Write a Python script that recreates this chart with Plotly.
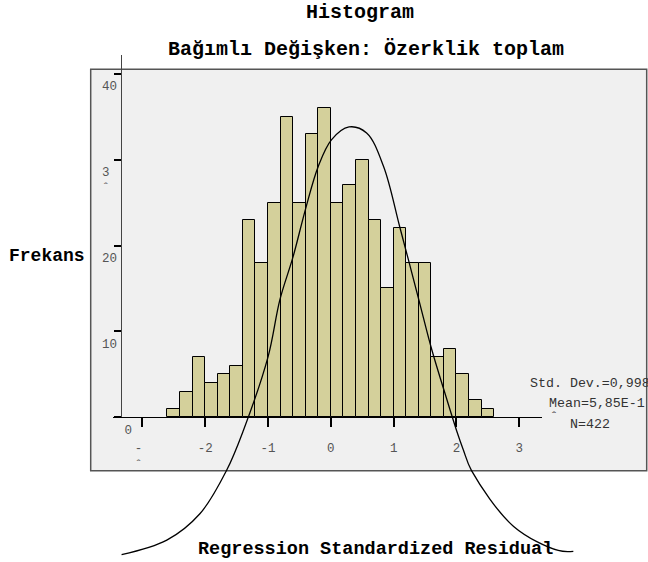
import plotly.graph_objects as go

# ---------------- data ----------------
bin_centers = [-2.5, -2.3, -2.1, -1.9, -1.7, -1.5, -1.3, -1.1, -0.9, -0.7, -0.5, -0.3, -0.1,
               0.1, 0.3, 0.5, 0.7, 0.9, 1.1, 1.3, 1.5, 1.7, 1.9, 2.1, 2.3, 2.5]
counts = [1, 3, 7, 4, 5, 6, 23, 18, 25, 35, 25, 33, 36,
          25, 27, 30, 23, 15, 22, 18, 18, 7, 8, 5, 2, 1]
bin_width = 0.2

# normal curve as drawn in the picture (data units)
curve_x = [-3.33, -2.61, -2.08, -1.66, -1.39, -1.00, -0.81, -0.60, -0.40, -0.20, 0.01, 0.29,
           0.57, 0.84, 1.10, 1.39, 1.61, 1.80, 2.00, 2.11, 2.24, 2.91, 3.62, 3.86]
curve_y = [-16.0, -14.3, -11.2, -6.2, -1.5, 7.0, 13.7, 18.7, 24.3, 29.2, 32.3, 33.8,
           33.1, 29.2, 22.1, 14.0, 7.8, 3.2, -1.5, -3.8, -6.2, -12.7, -15.5, -15.6]

x_tickvals = [-3, -2, -1, 0, 1, 2, 3]
x_ticktext = ["-\u00a0<br>\u02c6\u00a0", "-2", "-1", "0", "1", "2", "3"]
y_tickvals = [0, 10, 20, 30, 40]
y_ticktext = ["0<br>\u00a0", "10\u00a0\u00a0<br>\u00a0", "20\u00a0\u00a0<br>\u00a0",
              "3\u00a0\u00a0\u00a0<br>\u02c6\u00a0\u00a0\u00a0", "40\u00a0\u00a0<br>\u00a0"]

title1 = "Histogram"
title2 = "Bağımlı Değişken: Özerklik toplam"
y_title = "Frekans"
x_title = "Regression Standardized Residual"
stats = ["Std. Dev.=0,998", "Mean=5,85E-1", "\u02c6", "N=422"]

# ---------------- layout geometry (pixels) ----------------
W, H = 648, 562
PX0, PXU = 330.8, 62.83      # pixel of x=0, px per unit
PY0, PYU = 417.3, 8.59       # pixel of y=0, px per count
ax_left, ax_right = 113.0, 541.7
ax_top = 55.0
yaxis_x = 120.7

def px(v): return v / W
def py(v): return 1 - v / H

MONO = "Liberation Mono, Courier New, monospace"

fig = go.Figure()
fig.add_trace(go.Bar(x=bin_centers, y=counts, width=bin_width,
                     marker=dict(color="#d4d09b", line=dict(color="#000000", width=1)),
                     xaxis="x", yaxis="y", hoverinfo="skip"))
fig.add_trace(go.Scatter(x=curve_x, y=curve_y, mode="lines",
                         line=dict(color="#000000", width=1.3, shape="spline", smoothing=1.0),
                         xaxis="x2", yaxis="y2", hoverinfo="skip"))

fig.update_layout(
    width=W, height=H, margin=dict(l=0, r=0, t=0, b=0, pad=0), autosize=False,
    paper_bgcolor="white", plot_bgcolor="rgba(0,0,0,0)",
    showlegend=False, bargap=0,
    xaxis=dict(domain=[px(ax_left), px(ax_right)],
               range=[(ax_left - PX0) / PXU, (ax_right - PX0) / PXU],
               tickvals=x_tickvals, ticktext=x_ticktext,
               ticks="outside", ticklen=9, tickwidth=1.5, tickcolor="#000",
               showline=True, linecolor="#000", linewidth=1.3,
               showgrid=False, zeroline=False, automargin=False,
               tickfont=dict(family=MONO, size=12.5, color="#555"),
               ticklabelstandoff=10, anchor="y", fixedrange=True),
    yaxis=dict(domain=[py(PY0), py(ax_top)],
               range=[0, (PY0 - ax_top) / PYU],
               tickvals=y_tickvals, ticktext=y_ticktext,
               ticks="outside", ticklen=7, tickwidth=1.5, tickcolor="#000",
               showline=True, linecolor="#444", linewidth=1.3,
               showgrid=False, zeroline=False, automargin=False,
               tickfont=dict(family=MONO, size=12.5, color="#555"),
               anchor="free", position=px(yaxis_x),
               ticklabelstandoff=-21, ticklabelshift=20, fixedrange=True),
    xaxis2=dict(domain=[0, 1], range=[(0 - PX0) / PXU, (W - PX0) / PXU],
                visible=False, anchor="y2", fixedrange=True, automargin=False),
    yaxis2=dict(domain=[0, 1], range=[(PY0 - H) / PYU, PY0 / PYU],
                visible=False, anchor="x2", fixedrange=True, automargin=False),
    shapes=[dict(type="rect", xref="paper", yref="paper",
                 x0=px(90.7), x1=px(646.7), y0=py(470.7), y1=py(69.3),
                 fillcolor="#f0f0f0", line=dict(color="#555", width=1.5), layer="below")],
)

ann = []
ann.append(dict(text=f"<b>{title1}</b>", x=px(359.5), y=py(13), xref="paper", yref="paper",
                showarrow=False, xanchor="center", yanchor="middle",
                font=dict(family=MONO, size=20, color="#000")))
ann.append(dict(text=f"<b>{title2}</b>", x=px(366), y=py(49), xref="paper", yref="paper",
                showarrow=False, xanchor="center", yanchor="middle",
                font=dict(family=MONO, size=20, color="#000")))
ann.append(dict(text=f"<b>{y_title}</b>", x=px(46.7), y=py(256), xref="paper", yref="paper",
                showarrow=False, xanchor="center", yanchor="middle",
                font=dict(family=MONO, size=18, color="#000")))
ann.append(dict(text=f"<b>{x_title}</b>", x=px(375), y=py(549), xref="paper", yref="paper",
                showarrow=False, xanchor="center", yanchor="middle",
                font=dict(family=MONO, size=18.5, color="#000")))
stat_pos = [(528.3, 383.3), (546.7, 403.3), (548, 417), (568, 424)]
for t, (sx, sy) in zip(stats, stat_pos):
    ann.append(dict(text=t, x=px(sx), y=py(sy), xref="paper", yref="paper",
                    showarrow=False, xanchor="left", yanchor="middle",
                    font=dict(family=MONO, size=13.3, color="#333")))
fig.update_layout(annotations=ann)

fig.write_html("out.html", config={"displayModeBar": False},
               post_script="document.body.style.margin='0';document.body.style.overflow='hidden';")
